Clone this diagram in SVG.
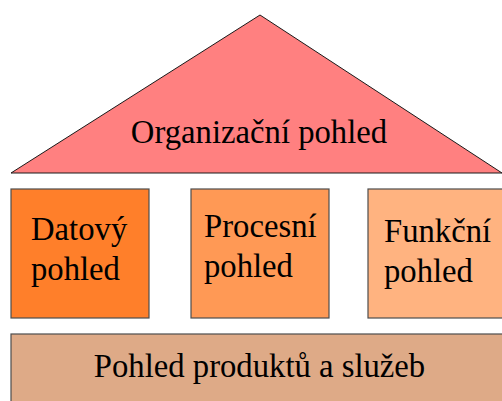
<svg xmlns="http://www.w3.org/2000/svg" width="502" height="401" viewBox="0 0 502 401">
  <style>
    .lbl { font-family: "Liberation Serif", "Times New Roman", serif; font-size: 32.7px; fill: #000; }
    .box { stroke: #4d4d4d; stroke-width: 1.2; }
  </style>
  <rect width="502" height="401" fill="#ffffff"/>
  <g id="organizacni">
    <polygon points="260,15 11,173 502,173" fill="#ff8080" stroke="#1a1a1a" stroke-width="1"/>
    <text class="lbl" x="259" y="143" text-anchor="middle">Organizační pohled</text>
  </g>
  <g id="datovy">
    <rect class="box" x="11" y="189" width="138" height="129" fill="#ff7f2a"/>
    <text class="lbl" x="31" y="240">Datový</text>
    <text class="lbl" x="31" y="280">pohled</text>
  </g>
  <g id="procesni">
    <rect class="box" x="191" y="189" width="138" height="129" fill="#ff9955"/>
    <text class="lbl" x="204" y="237">Procesní</text>
    <text class="lbl" x="204" y="277">pohled</text>
  </g>
  <g id="funkcni">
    <rect class="box" x="368" y="189" width="140" height="129" fill="#ffb380"/>
    <text class="lbl" x="384" y="242">Funkční</text>
    <text class="lbl" x="384" y="282">pohled</text>
  </g>
  <g id="produkty">
    <rect class="box" x="11" y="334" width="497" height="75" fill="#deaa87"/>
    <text class="lbl" x="259.5" y="377" text-anchor="middle">Pohled produktů a služeb</text>
  </g>
  <g id="connectors"/>
</svg>
